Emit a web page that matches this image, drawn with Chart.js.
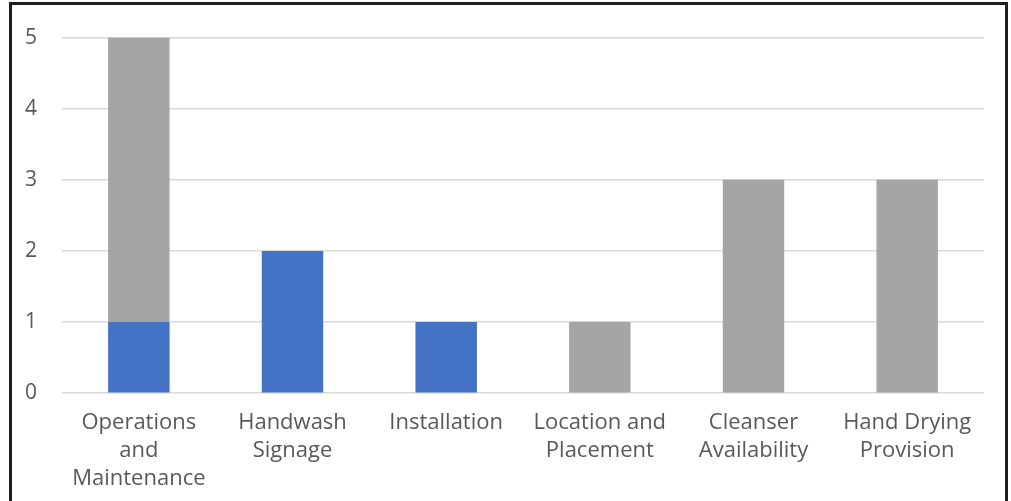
<!DOCTYPE html>
<html>
<head>
<meta charset="utf-8">
<script src="https://cdn.jsdelivr.net/npm/chart.js@4"></script>
<style>
  html, body { margin: 0; padding: 0; background: #fff; overflow: hidden; }
  #chart { position: absolute; left: 0; top: 0; }
  #frame {
    position: absolute; left: 9px; top: 2px; width: 999px; height: 540px;
    border: 3px solid #1e1e1e; box-sizing: border-box; pointer-events: none;
  }
</style>
</head>
<body>
<canvas id="chart" width="1011" height="501"></canvas>
<div id="frame"></div>
<script>
// Categories (multi-line axis labels) and the two stacked series
const categories = [
  ['Operations', 'and', 'Maintenance'],
  ['Handwash', 'Signage'],
  ['Installation'],
  ['Location and', 'Placement'],
  ['Cleanser', 'Availability'],
  ['Hand Drying', 'Provision'],
];
const blueValues = [1, 2, 1, 0, 0, 0];
const grayValues = [4, 0, 0, 1, 3, 3];
const yTicks = [0, 1, 2, 3, 4, 5];

const textColor = '#595959';

new Chart(document.getElementById('chart'), {
  type: 'bar',
  data: {
    labels: categories,
    datasets: [
      { label: 'Series 1', data: blueValues, backgroundColor: '#4472C4', barPercentage: 0.8, categoryPercentage: 0.5 },
      { label: 'Series 2', data: grayValues, backgroundColor: '#A5A5A5', barPercentage: 0.8, categoryPercentage: 0.5 },
    ]
  },
  options: {
    responsive: false,
    animation: false,
    layout: { padding: { left: 0, right: 27, top: 17, bottom: 0 } },
    plugins: { legend: { display: false }, tooltip: { enabled: false } },
    scales: {
      x: {
        stacked: true,
        grid: { display: false },
        border: { display: false },
        ticks: {
          color: textColor, font: { family: 'Open Sans', size: 22, lineHeight: 1.27 },
          maxRotation: 0, autoSkip: false, padding: 8
        }
      },
      y: {
        stacked: true,
        min: yTicks[0],
        max: yTicks[yTicks.length - 1],
        afterBuildTicks: (axis) => { axis.ticks = yTicks.map(v => ({ value: v })); },
        grid: { color: '#d9d9d9', lineWidth: 1.5, drawTicks: false },
        border: { display: false },
        ticks: { color: textColor, font: { family: 'Open Sans', size: 21 }, padding: 25 }
      }
    }
  }
});
</script>
</body>
</html>
